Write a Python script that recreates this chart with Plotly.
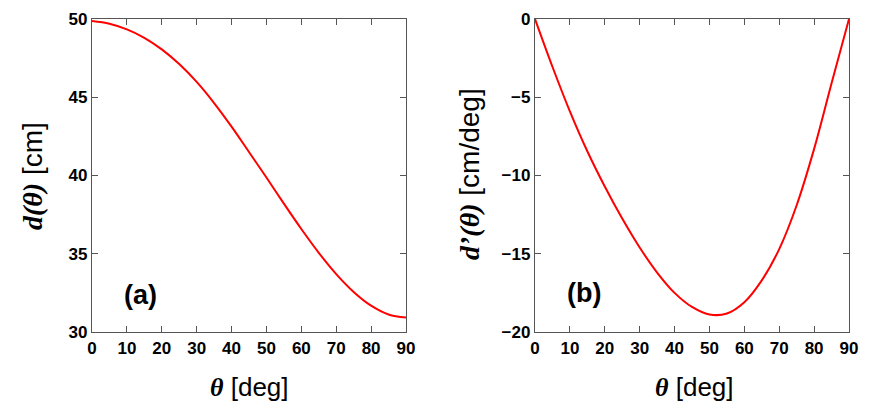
import plotly.graph_objects as go

# values
theta = [0, 5, 10, 15, 20, 25, 30, 35, 40, 45, 50, 55, 60, 65, 70, 75, 80, 85, 90]
d_cm = [49.87, 49.70, 49.34, 48.80, 48.06, 47.12, 45.98, 44.63, 43.12, 41.50,
        39.87, 38.20, 36.58, 35.06, 33.70, 32.56, 31.68, 31.12, 30.92]

theta_b = [0, 5, 10, 15, 20, 25, 30, 35, 40, 45, 50, 55, 60, 65, 70, 75, 80, 85, 90]
dprime = [0, -3.05, -5.9, -8.45, -10.7, -12.75, -14.6, -16.2, -17.5, -18.4,
          -18.88, -18.82, -18.1, -16.7, -14.7, -11.9, -8.3, -4.1, 0]

x_ticks = list(range(0, 91, 10))
y_ticks_a = [30, 35, 40, 45, 50]
y_ticks_b = [-20, -15, -10, -5, 0]

# page offset of the figure inside the browser (body margin)
OFF = 8
W, H = 872, 419
L, R, T, B = 92 - OFF, 23 + OFF, 19 - OFF, 87 + OFF
pw = W - L - R
ph = H - T - B


def px(x):
    return (x - OFF - L) / pw


def py(y):
    return (H - B - (y - OFF)) / ph


SERIF = "Liberation Serif"
SANS = "Liberation Sans"


def sym(s):
    return f'<span style="font-family:{SERIF}"><b><i>{s}</i></b></span>'


fig = go.Figure()
fig.add_trace(go.Scatter(x=theta, y=d_cm, mode="lines", line=dict(color="#ff0000", width=2, shape="spline"),
                         xaxis="x", yaxis="y", showlegend=False))
fig.add_trace(go.Scatter(x=theta_b, y=dprime, mode="lines", line=dict(color="#ff0000", width=2, shape="spline"),
                         xaxis="x2", yaxis="y2", showlegend=False))

ax = dict(showline=True, linecolor="#555555", linewidth=1.3, mirror="ticks", ticks="inside",
          ticklen=6, tickwidth=1.3, tickcolor="#555555", showgrid=False, zeroline=False,
          automargin=False,
          tickfont=dict(family=SANS, size=17, color="black", weight="bold"))

fig.update_layout(
    template="none",
    width=W, height=H,
    margin=dict(l=L, r=R, t=T, b=B, autoexpand=False),
    plot_bgcolor="white", paper_bgcolor="white",
    xaxis=dict(ax, domain=[0, px(406)], range=[0, 90], tickvals=x_ticks, anchor="y"),
    yaxis=dict(ax, domain=[0, 1], range=[30, 50], tickvals=y_ticks_a, anchor="x"),
    xaxis2=dict(ax, domain=[px(535), 1], range=[0, 90], tickvals=x_ticks, anchor="y2"),
    yaxis2=dict(ax, domain=[0, 1], range=[-20, 0], tickvals=y_ticks_b, anchor="x2"),
)

notes = [
    dict(x=px(249), y=py(387), text=sym("θ") + " [deg]", textangle=0, size=26),
    dict(x=px(694), y=py(387), text=sym("θ") + " [deg]", textangle=0, size=26),
    dict(x=px(32), y=py(176), text=sym("d(θ)") + " [cm]", textangle=-90, size=28),
    dict(x=px(469), y=py(174), text=sym("d’(θ)") + " [cm/deg]", textangle=-90, size=28),
]
for n in notes:
    size = n.pop("size")
    fig.add_annotation(xref="paper", yref="paper", showarrow=False,
                       font=dict(family=SANS, size=size, color="black"),
                       xanchor="center", yanchor="middle", **n)

fig.add_annotation(xref="paper", yref="paper", x=px(140), y=py(295), text="<b>(a)</b>", showarrow=False,
                   font=dict(family=SANS, size=27, color="black"), xanchor="center", yanchor="middle")
fig.add_annotation(xref="paper", yref="paper", x=px(584), y=py(293), text="<b>(b)</b>", showarrow=False,
                   font=dict(family=SANS, size=27, color="black"), xanchor="center", yanchor="middle")

fig.write_html("out.html")
